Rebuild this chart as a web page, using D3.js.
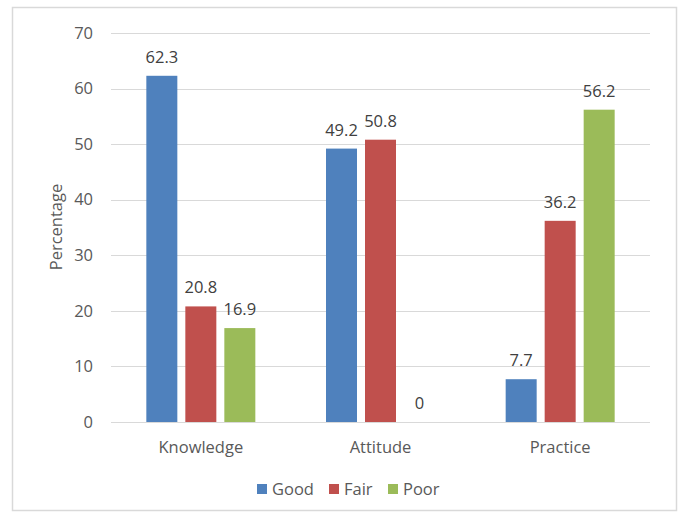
<!DOCTYPE html>
<html><head><meta charset="utf-8">
<script src="https://cdn.jsdelivr.net/npm/d3@7"></script>
<style>body{margin:0;background:#fff}</style>
</head><body>
<svg id="c" width="685" height="513"></svg>
<script>
const categories = ["Knowledge", "Attitude", "Practice"];
const seriesNames = ["Good", "Fair", "Poor"];
const good = [62.3, 49.2, 7.7];
const fair = [20.8, 50.8, 36.2];
const poor = [16.9, 0, 56.2];
const yTicks = [0, 10, 20, 30, 40, 50, 60, 70];
const colors = ["#4f81bd", "#c0504d", "#9bbb59"];
const series = [good, fair, poor];

(function () {
const svg = d3.select("#c");
const font = "'Open Sans', 'Liberation Sans', sans-serif";
svg.append("rect").attr("x", 12.5).attr("y", 7.5).attr("width", 664).attr("height", 503)
  .attr("fill", "#fff").attr("stroke", "#d9d9d9").attr("stroke-width", 1.5);

const pL = 111, pR = 650, pT = 33, pB = 422;
const x = d3.scaleBand().domain(categories).range([pL, pR]).padding(0);
const y = d3.scaleLinear().domain([0, 70]).range([pB, pT]);
const inner = d3.scaleBand().domain(seriesNames).range([0, 109]).paddingInner(8/39).paddingOuter(0);

// gridlines
svg.append("g").selectAll("line").data(yTicks.filter(d => d > 0)).join("line")
  .attr("x1", pL).attr("x2", pR)
  .attr("y1", d => Math.round(y(d)) + 0.5).attr("y2", d => Math.round(y(d)) + 0.5)
  .attr("stroke", "#d9d9d9").attr("stroke-width", 1);

// y axis labels
const yAxis = d3.axisLeft(y).tickValues(yTicks).tickSize(0).tickPadding(18);
const gy = svg.append("g").attr("transform", `translate(${pL},0)`).call(yAxis);
gy.select(".domain").remove();
gy.selectAll("text").attr("fill", "#595959").style("font-family", font).style("font-size", "16.5px");

// bars
const groups = svg.append("g").selectAll("g").data(categories).join("g")
  .attr("transform", c => `translate(${x(c) + x.bandwidth()/2 - 54.5},0)`);
groups.selectAll("rect").data((c, ci) => seriesNames.map((s, si) => ({s, si, v: series[si][ci]}))).join("rect")
  .attr("x", d => inner(d.s)).attr("width", inner.bandwidth())
  .attr("y", d => y(d.v)).attr("height", d => y(0) - y(d.v))
  .attr("fill", d => colors[d.si]);
groups.selectAll("text").data((c, ci) => seriesNames.map((s, si) => ({s, si, v: series[si][ci]}))).join("text")
  .attr("x", d => inner(d.s) + inner.bandwidth()/2)
  .attr("y", d => y(d.v) - 13)
  .attr("text-anchor", "middle")
  .attr("fill", "#404040").style("font-family", font).style("font-size", "16.5px")
  .text(d => d.v);

// x axis
svg.append("line").attr("x1", pL).attr("x2", pR).attr("y1", pB + 0.5).attr("y2", pB + 0.5)
  .attr("stroke", "#d9d9d9").attr("stroke-width", 1);
const xAxis = d3.axisBottom(x).tickSize(0).tickPadding(19);
const gx = svg.append("g").attr("transform", `translate(0,${pB})`).call(xAxis);
gx.select(".domain").remove();
gx.selectAll("text").attr("fill", "#595959").style("font-family", font).style("font-size", "16.5px");

// y title
svg.append("text").attr("transform", "translate(62,227) rotate(-90)")
  .attr("text-anchor", "middle").attr("fill", "#595959")
  .style("font-family", font).style("font-size", "16.5px").text("Percentage");

// legend
const legX = [257, 329, 388];
const leg = svg.append("g").selectAll("g").data(seriesNames).join("g")
  .attr("transform", (d, i) => `translate(${legX[i]},489)`);
leg.append("rect").attr("x", 0).attr("y", -5).attr("width", 10).attr("height", 10)
  .attr("fill", (d, i) => colors[i]);
leg.append("text").attr("x", 15).attr("y", 6).attr("fill", "#595959")
  .style("font-family", font).style("font-size", "16.5px").text(d => d);
})();
</script>
</body></html>
